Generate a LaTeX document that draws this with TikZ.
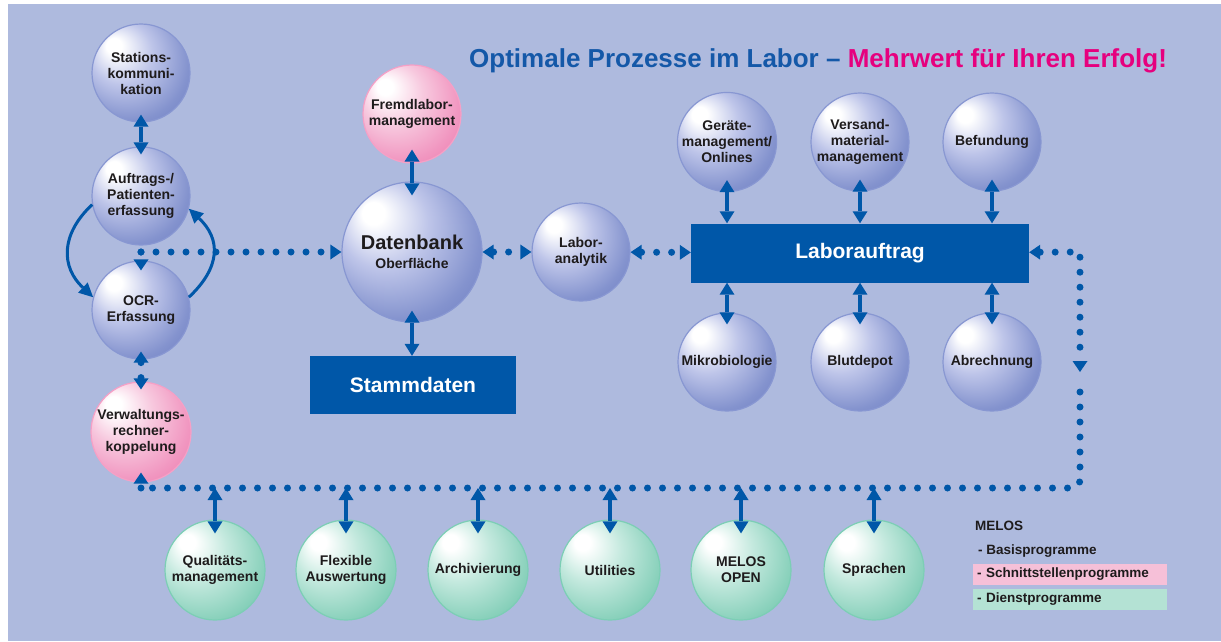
\documentclass[tikz,border=0pt]{standalone}
\usepackage{fontspec}
\setmainfont{Liberation Sans}
\usetikzlibrary{arrows.meta,calc}

\definecolor{bg}{RGB}{174,186,222}
\definecolor{dblue}{RGB}{0,87,168}
\definecolor{txt}{RGB}{30,27,28}
\definecolor{tblue}{RGB}{20,88,168}
\definecolor{tpink}{RGB}{230,0,126}
\definecolor{sb1}{RGB}{190,197,233}
\definecolor{sb2}{RGB}{132,147,206}
\definecolor{sb3}{RGB}{102,118,190}
\definecolor{rimb}{RGB}{136,151,210}
\definecolor{sp1}{RGB}{247,200,222}
\definecolor{sp2}{RGB}{241,150,192}
\definecolor{sp3}{RGB}{235,115,168}
\definecolor{rimp}{RGB}{246,160,198}
\definecolor{sg1}{RGB}{196,233,222}
\definecolor{sg2}{RGB}{140,210,189}
\definecolor{sg3}{RGB}{96,192,162}
\definecolor{rimg}{RGB}{124,206,181}
\definecolor{legpink}{RGB}{246,192,216}
\definecolor{leggreen}{RGB}{180,226,212}

\pgfdeclareradialshading{bluesph}{\pgfpoint{-15bp}{15bp}}{color(0bp)=(white); color(4bp)=(white); color(16bp)=(sb1); color(30bp)=(sb2); color(42bp)=(sb3); color(50bp)=(sb3)}
\pgfdeclareradialshading{pinksph}{\pgfpoint{-15bp}{15bp}}{color(0bp)=(white); color(4bp)=(white); color(16bp)=(sp1); color(30bp)=(sp2); color(42bp)=(sp3); color(50bp)=(sp3)}
\pgfdeclareradialshading{greensph}{\pgfpoint{-15bp}{15bp}}{color(0bp)=(white); color(4bp)=(white); color(16bp)=(sg1); color(30bp)=(sg2); color(42bp)=(sg3); color(50bp)=(sg3)}

\tikzset{
  base/.style={circle, shade, shading=bluesph, draw=rimb, line width=1.2pt,
    minimum size=98pt, inner sep=0pt, align=center, text=txt,
    font=\bfseries\fontsize{14}{16}\selectfont},
  iface/.style={base, shading=pinksph, draw=rimp},
  serv/.style={base, shading=greensph, draw=rimg, minimum size=100pt},
  block/.style={rectangle, fill=dblue, text=white, inner sep=0pt,
    font=\bfseries\fontsize{21}{24}\selectfont},
  link/.style={draw=dblue, line width=4pt,
    arrows={Triangle[width=15pt,length=12pt,line width=0pt]-Triangle[width=15pt,length=12pt,line width=0pt]}},
  dotline/.style={draw=dblue, line width=7pt, line cap=round, dash pattern=on 0pt off 15pt},
  bow/.style={draw=dblue, line width=3pt, arrows={-Triangle[width=14pt,length=14pt,line width=0pt]}},
  legtext/.style={anchor=base west, text=txt, inner sep=0pt, font=\bfseries\fontsize{13.5}{16}\selectfont},
  legbox/.style={anchor=west, minimum width=194pt, minimum height=21pt, text width=186pt,
    inner xsep=4pt, inner ysep=0pt, align=left, text=txt, font=\bfseries\fontsize{13.5}{16}\selectfont}
}

\begin{document}
\begin{tikzpicture}[x=1pt, y=-1pt, >={Triangle[width=15pt,length=11pt,line width=0pt]}]
  \useasboundingbox (0,0) rectangle (1221,641);
  \fill[bg] (8,4) rectangle (1221,641);

  % title
  \node[anchor=base west, inner sep=0pt, text=tblue, font=\bfseries\fontsize{26}{30}\selectfont]
    (title) at (469,67) {Optimale Prozesse im Labor – \textcolor{tpink}{Mehrwert für Ihren Erfolg!}};

  % left column
  \node[base] (st) at (141,73) {Stations-\\kommuni-\\kation};
  \node[base] (pat) at (141,196) {Auftrags-/\\Patienten-\\erfassung};
  \node[base] (ocr) at (141,310) {OCR-\\Erfassung};
  \node[iface, minimum size=100pt] (vw) at (141,432) {Verwaltungs-\\rechner-\\koppelung};

  % centre
  \node[iface] (fl) at (412,114) {Fremdlabor-\\management};
  \node[base, minimum size=140pt] (db) at (412,252) {{\fontsize{20}{22}\selectfont Datenbank}\\[3pt]Oberfläche};
  \node[base] (la) at (581,252) {Labor-\\analytik};
  \node[block, minimum width=206pt, minimum height=58pt] (sd) at (413,385) {Stammdaten};

  % right block
  \node[block, minimum width=338pt, minimum height=59pt] (lab) at (860,253) {Laborauftrag};
  \node[base] (ger) at (727,142) {Geräte-\\management/\\Onlines};
  \node[base] (ver) at (860,142) {Versand-\\material-\\management};
  \node[base] (bef) at (992,142) {Befundung};
  \node[base] (mik) at (727,362) {Mikrobiologie};
  \node[base] (blu) at (860,362) {Blutdepot};
  \node[base] (abr) at (992,362) {Abrechnung};

  % service programs
  \node[serv] (qm) at (215,570) {Qualitäts-\\management};
  \node[serv] (fa) at (346,570) {Flexible\\Auswertung};
  \node[serv] (ar) at (478,570) {Archivierung};
  \node[serv] (ut) at (610,570) {Utilities};
  \node[serv] (mo) at (741,570) {MELOS\\OPEN};
  \node[serv] (sp) at (874,570) {Sprachen};

  % legend
  \node[legtext] (melos) at (975,530) {MELOS};
  \node[legtext] (basis) at (978,554) {- Basisprogramme};
  \node[legbox, fill=legpink] (schn) at (973,574.5) {- Schnittstellenprogramme};
  \node[legbox, fill=leggreen] (dien) at (973,599.5) {- Dienstprogramme};

  % dotted bus
  \coordinate (j1) at (141,252);
  \coordinate (c1) at (1080,252);
  \coordinate (cm) at (1080,372);
  \coordinate (cn) at (1080,392);
  \coordinate (c2) at (1080,488);
  \coordinate (c3) at (141,488);
  \begin{scope}[dotline]
    \draw[->] (j1) -- (db);
    \draw[->, shorten >=-10pt] (j1) -- (ocr);
    \draw[<->, shorten <=-8pt, shorten >=-8pt] (ocr) -- (vw);
    \draw[<->] (db) -- (la);
    \draw[<->] (la) -- (lab);
    \draw[<->] (lab) -- (c1) -- (cm);
    \draw[rounded corners=8pt] (cn) -- (c2) -- (c3);
    \draw[->, shorten >=-10pt] (c3) -- (vw);
  \end{scope}

  % links
  \begin{scope}[link]
    \draw[shorten <=-8pt, shorten >=-8pt] (st) -- (pat);
    \draw[shorten <=-14pt, shorten >=-14pt] (fl) -- (db);
    \draw[shorten <=-12pt] (db) -- (db |- sd.north);
    \draw[shorten <=-12pt] (ger) -- (ger |- lab.north);
    \draw[shorten <=-12pt] (ver) -- (ver |- lab.north);
    \draw[shorten <=-12pt] (bef) -- (bef |- lab.north);
    \draw[shorten >=-12pt] (mik |- lab.south) -- (mik);
    \draw[shorten >=-12pt] (blu |- lab.south) -- (blu);
    \draw[shorten >=-12pt] (abr |- lab.south) -- (abr);
    \draw[shorten >=-14pt] (qm |- c3) -- (qm);
    \draw[shorten >=-14pt] (fa |- c3) -- (fa);
    \draw[shorten >=-14pt] (ar |- c3) -- (ar);
    \draw[shorten >=-14pt] (ut |- c3) -- (ut);
    \draw[shorten >=-14pt] (mo |- c3) -- (mo);
    \draw[shorten >=-14pt] (sp |- c3) -- (sp);
  \end{scope}

  % cycle between order entry and OCR
  \draw[bow] (pat.190) .. controls +(-32,30) and +(-32,-30) .. (ocr.165);
  \draw[bow] (ocr.15) .. controls +(32,-30) and +(32,30) .. (pat.345);
\end{tikzpicture}
\end{document}
